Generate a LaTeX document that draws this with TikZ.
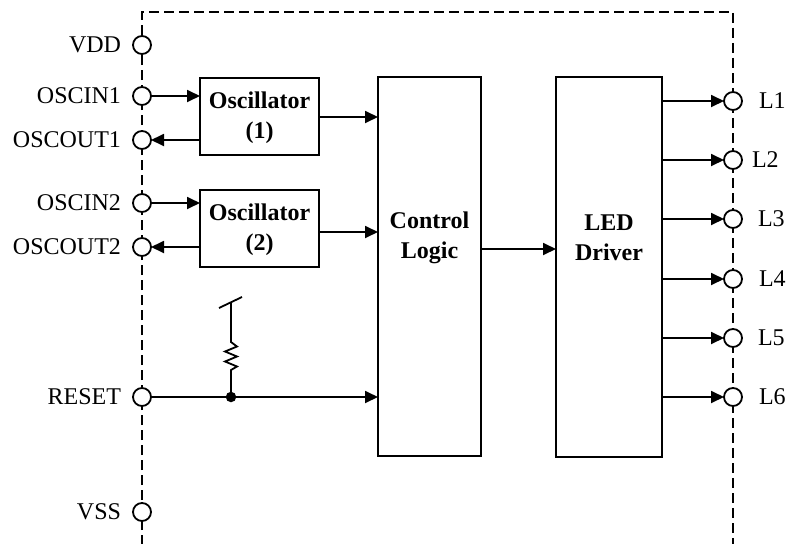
\documentclass[tikz,border=0pt]{standalone}
\usepackage{fontspec}
\setmainfont{Liberation Serif}
\usetikzlibrary{arrows.meta}
\begin{document}
\begin{tikzpicture}[x=1pt,y=-1pt,
  every node/.style={inner sep=0pt,outer sep=0pt},
  pinc/.style={circle,draw,fill=white,line width=1.8pt,minimum size=18pt},
  lbl/.style={font=\fontsize{24}{29}\selectfont},
  blk/.style={draw,line width=2pt},
  btxt/.style={font=\fontsize{24}{30}\selectfont\bfseries,align=center},
  sig/.style={line width=1.8pt},
  arr/.style={line width=1.8pt,-{Triangle[length=13pt,width=12pt]}},
  bnd/.style={line width=2.8pt,dash pattern=on 10pt off 5pt}]
\useasboundingbox (0,0) rectangle (791,543);
% boundary
\coordinate (bl) at (142,545);
\coordinate (tl) at (142,12);
\coordinate (tr) at (733,12);
\coordinate (br) at (733,545);
\draw[bnd] (bl) -- (tl) -- (tr) -- (br);
% blocks
\node[blk,minimum width=119pt,minimum height=77pt] (osc1) at (259.5,116.5) {};
\node[btxt] (osc1t) at (259.5,118) {Oscillator\\(1)};
\node[blk,minimum width=119pt,minimum height=77pt] (osc2) at (259.5,228.5) {};
\node[btxt] (osc2t) at (259.5,230) {Oscillator\\(2)};
\node[blk,minimum width=103pt,minimum height=379pt] (cl) at (429.5,266.5) {};
\node[btxt] (clt) at (429.5,238) {Control\\Logic};
\node[blk,minimum width=106pt,minimum height=380pt] (led) at (609,267) {};
\node[btxt] (ledt) at (609,238) {LED\\Driver};
% left pins
\node[pinc] (vdd) at (142,45) {};
\node[pinc] (oscin1) at (142,96) {};
\node[pinc] (oscout1) at (142,140) {};
\node[pinc] (oscin2) at (142,203) {};
\node[pinc] (oscout2) at (142,247) {};
\node[pinc] (reset) at (142,397) {};
\node[pinc] (vss) at (142,512) {};
\node[lbl,anchor=east] (vddl) at ([xshift=-12pt]vdd.west) {VDD};
\node[lbl,anchor=east] (oscin1l) at ([xshift=-12pt]oscin1.west) {OSCIN1};
\node[lbl,anchor=east] (oscout1l) at ([xshift=-12pt]oscout1.west) {OSCOUT1};
\node[lbl,anchor=east] (oscin2l) at ([xshift=-12pt]oscin2.west) {OSCIN2};
\node[lbl,anchor=east] (oscout2l) at ([xshift=-12pt]oscout2.west) {OSCOUT2};
\node[lbl,anchor=east] (resetl) at ([xshift=-12pt]reset.west) {RESET};
\node[lbl,anchor=east] (vssl) at ([xshift=-12pt]vss.west) {VSS};
% right pins
\node[pinc] (l1) at (733,101) {};
\node[pinc] (l2) at (733,160) {};
\node[pinc] (l3) at (733,219) {};
\node[pinc] (l4) at (733,279) {};
\node[pinc] (l5) at (733,338) {};
\node[pinc] (l6) at (733,397) {};
\node[lbl,anchor=west] (l1l) at ([xshift=17pt]l1.east) {L1};
\node[lbl,anchor=west] (l2l) at ([xshift=10pt]l2.east) {L2};
\node[lbl,anchor=west] (l3l) at ([xshift=16pt]l3.east) {L3};
\node[lbl,anchor=west] (l4l) at ([xshift=17pt]l4.east) {L4};
\node[lbl,anchor=west] (l5l) at ([xshift=16pt]l5.east) {L5};
\node[lbl,anchor=west] (l6l) at ([xshift=17pt]l6.east) {L6};
% oscillator connections
\draw[arr] (oscin1) -- (osc1.west |- oscin1);
\draw[arr] (osc1.west |- oscout1) -- (oscout1);
\draw[arr] (oscin2) -- (osc2.west |- oscin2);
\draw[arr] (osc2.west |- oscout2) -- (oscout2);
\coordinate (o1o) at (osc1.east |- 0,117);
\coordinate (o2o) at (osc2.east |- 0,232);
\draw[arr] (o1o) -- (cl.west |- o1o);
\draw[arr] (o2o) -- (cl.west |- o2o);
% control to LED
\coordinate (clo) at (cl.east |- 0,249);
\draw[arr] (clo) -- (led.west |- clo);
% reset
\draw[arr] (reset) -- (cl.west |- reset);
\node[circle,fill=black,minimum size=10.5pt] (dot) at (231,397) {};
\coordinate (r1) at (231,370);
\coordinate (r2) at (231,342);
\coordinate (rt) at (231,303);
\coordinate (sa) at (219,308);
\coordinate (sb) at (242,297);
\draw[sig,line join=miter] (dot.center) -- (r1) -- ++(6,-3.5) -- ++(-12,-5) -- ++(12,-5) -- ++(-12,-5) -- ++(12,-5) -- (r2) -- (rt);
\draw[sig] (sa) -- (sb);
% LED outputs
\foreach \p in {l1,l2,l3,l4,l5,l6}
  \draw[arr] (led.east |- \p) -- (\p);
\end{tikzpicture}
\end{document}
